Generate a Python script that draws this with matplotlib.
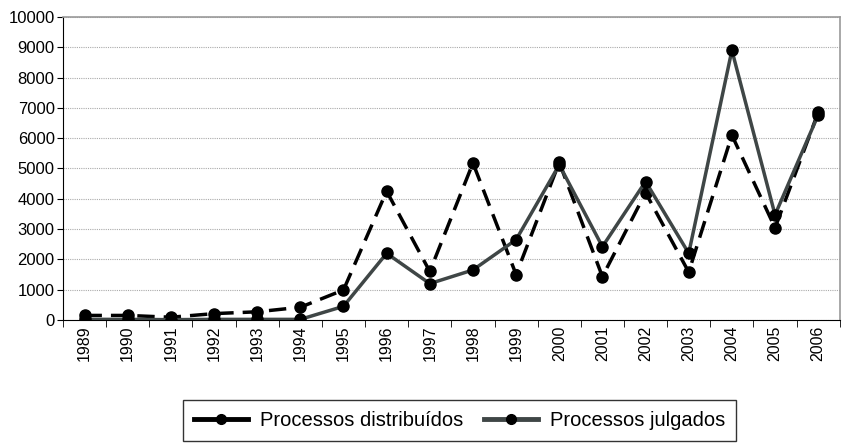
import numpy as np
import matplotlib.pyplot as plt

plt.rcParams['font.family'] = ['Liberation Sans', 'DejaVu Sans']

anos = ['1989', '1990', '1991', '1992', '1993', '1994', '1995', '1996', '1997',
        '1998', '1999', '2000', '2001', '2002', '2003', '2004', '2005', '2006']
distribuidos = [150, 150, 90, 210, 270, 420, 990, 4250, 1600,
                5180, 1500, 5200, 1430, 4200, 1580, 6100, 3040, 6850]
julgados = [20, 20, 10, 20, 20, 20, 450, 2200, 1200,
            1650, 2650, 5120, 2420, 4570, 2200, 8900, 3470, 6770]

fig = plt.figure(figsize=(8.44, 4.43), dpi=100)
ax = fig.add_axes([0.0746, 0.2777, 0.9204, 0.684])

x = np.arange(len(anos))
ax.plot(x, distribuidos, color='black', lw=2.5, linestyle=(0, (5, 2.6)),
        marker='o', markersize=8, markerfacecolor='black', markeredgecolor='black',
        label='Processos distribuídos', zorder=3)
ax.plot(x, julgados, color='#3f4646', lw=2.5, marker='o', markersize=8,
        markerfacecolor='black', markeredgecolor='black',
        label='Processos julgados', zorder=4)

ax.set_xlim(-0.5, len(anos) - 0.5)
ax.set_ylim(0, 10000)
ax.set_yticks(np.arange(0, 10001, 1000))
ax.set_xticks(x)
ax.set_xticklabels(anos, rotation=90, fontsize=11.5)
ax.set_xticks(np.arange(-0.5, len(anos), 1), minor=True)
ax.tick_params(axis='x', which='major', length=0, pad=4)
ax.tick_params(axis='x', which='minor', length=5, direction='out', color='black')
ax.tick_params(axis='y', length=4, direction='out', labelsize=12, pad=2)

ax.yaxis.grid(True, linestyle=(0, (1, 1)), color='#aaaaaa', lw=0.8)
ax.set_axisbelow(True)
for s in ['top', 'right']:
    ax.spines[s].set_color('#999999')
    ax.spines[s].set_linewidth(1.2)
ax.spines['left'].set_color('black')
ax.spines['bottom'].set_color('black')

leg = fig.legend(loc='upper center', bbox_to_anchor=(0.5444, 0.097), ncol=2,
                 fontsize=14.5, frameon=True, fancybox=False, edgecolor='black',
                 handlelength=2.7, handletextpad=0.6, columnspacing=1.0,
                 borderpad=0.55, borderaxespad=0)
leg.get_frame().set_linewidth(1.0)
for ln in leg.get_lines():
    ln.set_linestyle('-')
    ln.set_linewidth(3.5)
    ln.set_markersize(7)

fig.savefig('out.png', dpi=100)
